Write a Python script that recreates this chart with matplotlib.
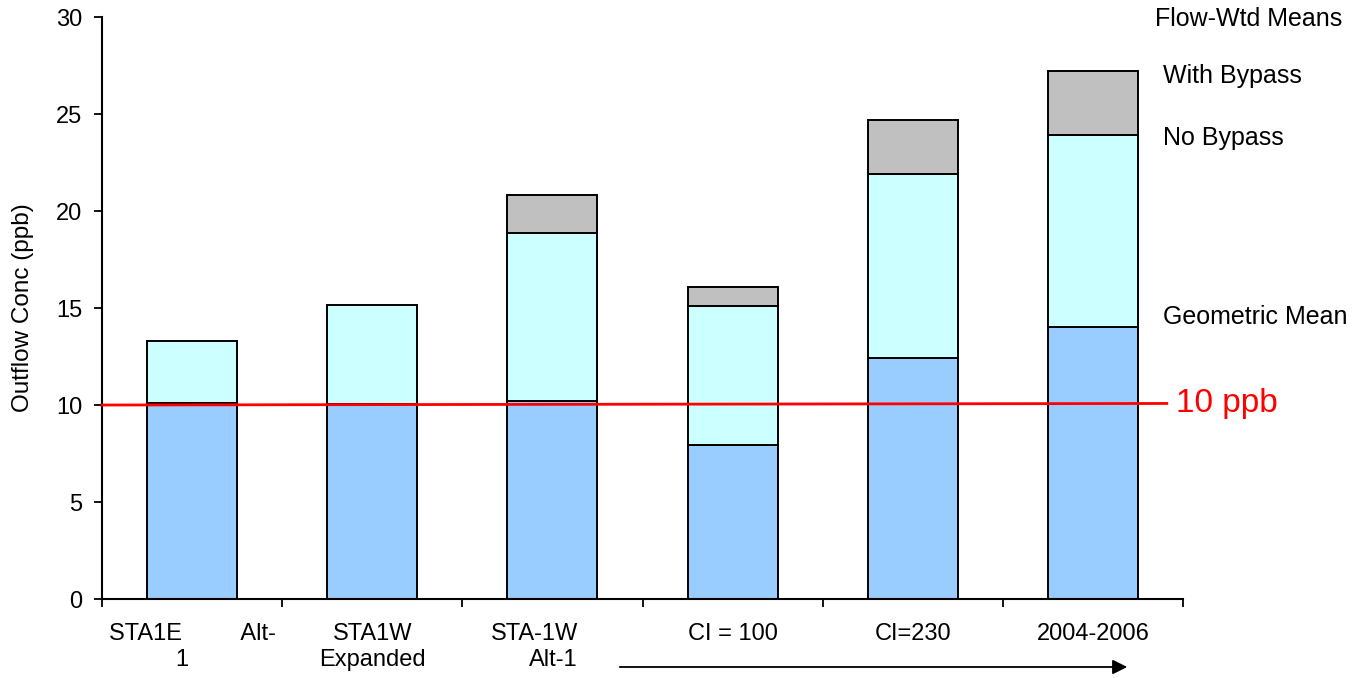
import matplotlib.pyplot as plt
import numpy as np

plt.rcParams["font.family"] = ["Liberation Sans", "DejaVu Sans"]

categories = [
    "STA1E         Alt-\n1   ",
    "STA1W\nExpanded",
    "STA-1W\nAlt-1",
    "CI = 100",
    "CI=230",
    "2004-2006",
]
geo_mean = [10.1, 10.05, 10.2, 7.95, 12.4, 14.0]
no_bypass = [13.3, 15.15, 18.85, 15.1, 21.9, 23.9]
with_bypass = [np.nan, np.nan, 20.8, 16.1, 24.7, 27.2]
target_ppb = [10.0, 10.08]

BLUE = "#99CCFF"
CYAN = "#CCFFFF"
GRAY = "#C0C0C0"


def main() -> None:
    fig = plt.figure(figsize=(13.57, 6.78), dpi=100)
    ax = fig.add_axes([0.0752, 0.1165, 0.7966, 0.8584])

    x = np.arange(len(categories))
    width = 0.5
    geo = np.array(geo_mean)
    nob = np.array(no_bypass)
    wb = np.array(with_bypass)

    edge = dict(edgecolor="black", linewidth=1.4)
    ax.bar(x, geo, width, color=BLUE, **edge, zorder=2)
    ax.bar(x, nob - geo, width, bottom=geo, color=CYAN, **edge, zorder=2)
    has = ~np.isnan(wb)
    ax.bar(x[has], wb[has] - nob[has], width, bottom=nob[has], color=GRAY, **edge, zorder=2)

    ax.set_xlim(-0.5, len(categories) - 0.5)
    ax.set_ylim(0, 30)
    ax.set_yticks(np.arange(0, 31, 5))
    ax.set_xticks(np.arange(-0.5, len(categories), 1.0))
    ax.set_xticklabels([])
    ax.tick_params(axis="x", length=6, width=1.3, direction="out")
    ax.tick_params(axis="y", length=6, width=1.3, labelsize=17, pad=8)

    for side in ("top", "right"):
        ax.spines[side].set_visible(False)
    for side in ("left", "bottom"):
        ax.spines[side].set_linewidth(1.5)

    ax.set_ylabel("Outflow Conc (ppb)", fontsize=17.5, labelpad=16)

    # category names under each bar, wrapped the way the worksheet did
    xt = ax.get_xaxis_transform()
    for i, name in enumerate(categories):
        if i == 2:
            ax.text(x[i] + 0.14, -0.041, name, transform=xt, ha="right", va="top",
                    multialignment="right", fontsize=17, linespacing=1.22)
        else:
            ax.text(x[i], -0.041, name, transform=xt, ha="center", va="top",
                    fontsize=17, linespacing=1.22)

    # 10 ppb target line running past the last bar
    ax.plot([-0.5, 5.41], target_ppb, color="red", linewidth=2, clip_on=False, zorder=3)
    ax.text(5.46, target_ppb[1], "10 ppb", color="red", fontsize=24, va="center", ha="left")

    fig.text(1155 / 1357, 1 - 19 / 678, "Flow-Wtd Means", fontsize=18, va="center")
    fig.text(1163 / 1357, 1 - 76 / 678, "With Bypass", fontsize=18, va="center")
    fig.text(1163 / 1357, 1 - 138 / 678, "No Bypass", fontsize=18, va="center")
    fig.text(1163 / 1357, 1 - 317 / 678, "Geometric Mean", fontsize=18, va="center")

    ax.annotate("", xy=(1130, 11), xytext=(617, 11), xycoords="figure pixels",
                textcoords="figure pixels",
                arrowprops=dict(arrowstyle="-|>", color="black", lw=1.3, mutation_scale=22))

    fig.savefig("out.png", dpi=100)
    plt.close(fig)


if __name__ == "__main__":
    main()
